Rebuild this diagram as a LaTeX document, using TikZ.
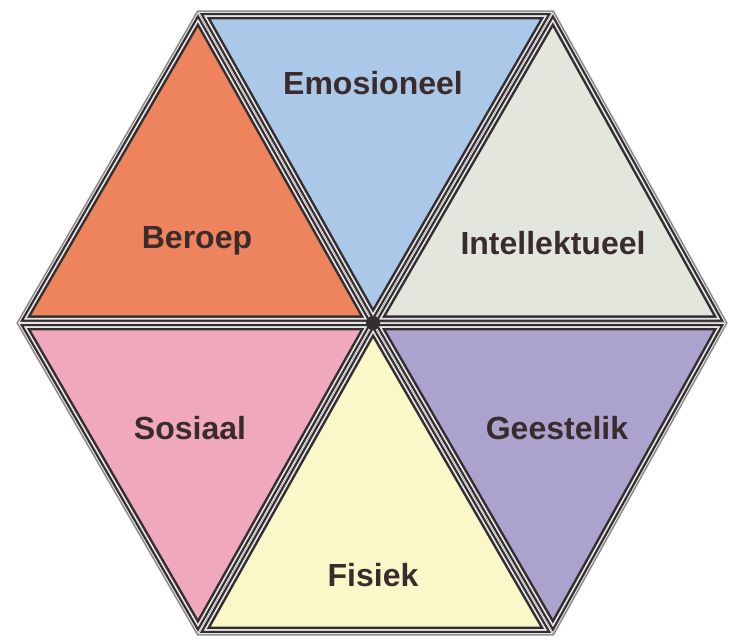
\documentclass[tikz,border=0pt]{standalone}
\usepackage{fontspec}
\setmainfont{Liberation Sans}
\definecolor{emoblue}{RGB}{172,200,232}
\definecolor{intgrey}{RGB}{226,230,220}
\definecolor{geslila}{RGB}{172,162,206}
\definecolor{fisgeel}{RGB}{250,248,200}
\definecolor{sospink}{RGB}{240,168,188}
\definecolor{beroranje}{RGB}{238,132,94}
\definecolor{labeltext}{RGB}{58,44,44}
\definecolor{rimgrey}{RGB}{52,46,48}
\tikzset{
  % the rim of a facet, drawn on its edge and clipped to the inside
  darkband/.style={draw=rimgrey,line width=#1,line join=miter},
  lightband/.style={draw=white!90!black,line width=#1,line join=miter},
  hexrim/.style={draw=black!45,line width=3pt,line join=miter},
  facetlabel/.style={
    font=\bfseries\fontsize{32}{32}\selectfont,
    text=labeltext}
}
% one triangle: corner, corner, fill colour (third corner is the centre)
\newcommand{\facettri}[3]{%
  \begin{scope}
    \clip (#1) -- (#2) -- (c) -- cycle;
    \fill[#3] (#1) -- (#2) -- (c) -- cycle;
    \draw[darkband=15pt]  (#1) -- (#2) -- (c) -- cycle;
    \draw[lightband=10pt] (#1) -- (#2) -- (c) -- cycle;
    \draw[darkband=6.5pt] (#1) -- (#2) -- (c) -- cycle;
    \draw[lightband=2pt]  (#1) -- (#2) -- (c) -- cycle;
  \end{scope}
}

\begin{document}
\begin{tikzpicture}[x=1pt,y=-1pt]
  \useasboundingbox (0,0) rectangle (729,644);

  % corners of the hexagon
  \coordinate (c)  at (373,323);
  \coordinate (tl) at (198,12);
  \coordinate (tr) at (553,12);
  \coordinate (r)  at (726,323);
  \coordinate (br) at (553,634);
  \coordinate (bl) at (198,634);
  \coordinate (l)  at (18,323);

  \draw[hexrim] (tl) -- (tr) -- (r) -- (br) -- (bl) -- (l) -- cycle;

  % the six facets
  \facettri{tl}{tr}{emoblue}
  \facettri{tr}{r}{intgrey}
  \facettri{r}{br}{geslila}
  \facettri{br}{bl}{fisgeel}
  \facettri{bl}{l}{sospink}
  \facettri{l}{tl}{beroranje}
  \fill[rimgrey] (c) circle (7);

  % labels
  \node (emosioneel)    [facetlabel] at (373,83)  {Emosioneel};
  \node (intellektueel) [facetlabel] at (553,243) {Intellektueel};
  \node (geestelik)     [facetlabel] at (557,428) {Geestelik};
  \node (fisiek)        [facetlabel] at (373,575) {Fisiek};
  \node (sosiaal)       [facetlabel] at (190,428) {Sosiaal};
  \node (beroep)        [facetlabel] at (197,241) {Beroep};

\end{tikzpicture}
\end{document}
